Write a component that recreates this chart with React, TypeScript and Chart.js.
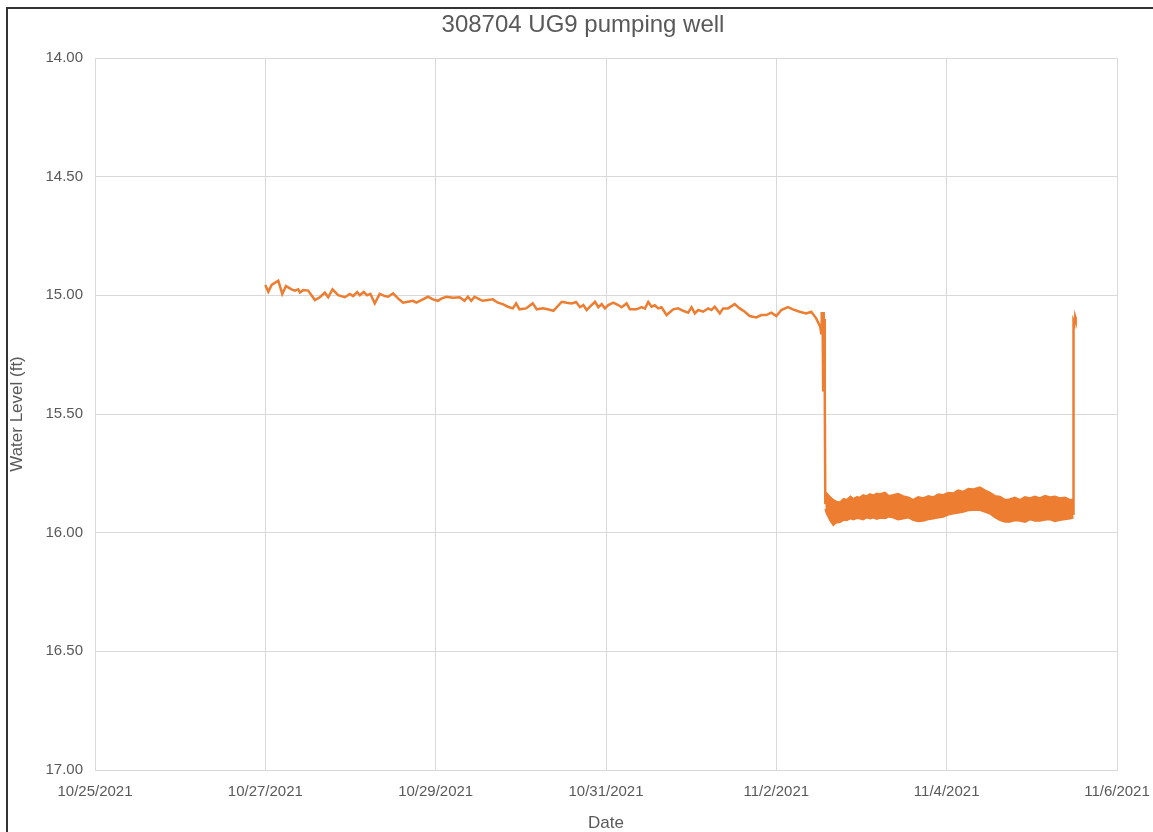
import React, { useEffect, useRef } from "react";
import { Chart, registerables } from "chart.js";

Chart.register(...registerables);

// ---- Data (x = days since 10/25/2021 00:00, y = water level in ft) ----
const chartTitle = "308704 UG9 pumping well";
const xTickLabels = ["10/25/2021", "10/27/2021", "10/29/2021", "10/31/2021", "11/2/2021", "11/4/2021", "11/6/2021"];
const yTickLabels = ["14.00", "14.50", "15.00", "15.50", "16.00", "16.50", "17.00"];

// Pre-pumping record (10/27 to start of pumping on 11/2)
const preTimes = [
  2.000, 2.035, 2.074, 2.152, 2.199, 2.242, 2.308, 2.347, 2.386, 2.406, 2.445, 2.503, 2.582, 2.640, 2.699, 2.738,
  2.789, 2.855, 2.933, 2.992, 3.031, 3.078, 3.109, 3.156, 3.195, 3.234, 3.285, 3.343, 3.402, 3.441, 3.500, 3.558,
  3.617, 3.675, 3.734, 3.773, 3.832, 3.910, 3.968, 4.027, 4.066, 4.125, 4.203, 4.281, 4.339, 4.378, 4.418, 4.457,
  4.515, 4.554, 4.613, 4.671, 4.730, 4.789, 4.847, 4.906, 4.945, 4.984, 5.062, 5.140, 5.187, 5.257, 5.316, 5.383,
  5.480, 5.539, 5.597, 5.648, 5.695, 5.734, 5.773, 5.812, 5.871, 5.910, 5.949, 5.988, 6.027, 6.086, 6.144, 6.183,
  6.242, 6.281, 6.359, 6.418, 6.457, 6.496, 6.535, 6.574, 6.613, 6.652, 6.711, 6.789, 6.847, 6.906, 6.965, 7.004,
  7.043, 7.082, 7.140, 7.199, 7.238, 7.277, 7.336, 7.375, 7.433, 7.511, 7.570, 7.629, 7.687, 7.765, 7.824, 7.883,
  7.941, 8.000, 8.058, 8.136, 8.195, 8.273, 8.351, 8.410, 8.468, 8.515, 8.527, 8.531, 8.535, 8.543, 8.550, 8.556,
  8.562, 8.566, 8.571, 8.575,
];
const preLevels = [
  14.956, 14.985, 14.956, 14.938, 14.994, 14.961, 14.975, 14.980, 14.975, 14.988, 14.978, 14.980, 15.020, 15.008, 14.989, 15.008,
  14.975, 14.999, 15.008, 14.994, 15.003, 14.986, 15.000, 14.986, 15.000, 14.994, 15.034, 14.994, 15.003, 15.006, 14.992, 15.013,
  15.031, 15.027, 15.023, 15.031, 15.020, 15.006, 15.017, 15.023, 15.014, 15.006, 15.010, 15.008, 15.023, 15.006, 15.023, 15.006,
  15.017, 15.023, 15.020, 15.017, 15.031, 15.037, 15.048, 15.055, 15.034, 15.059, 15.055, 15.034, 15.059, 15.055, 15.059, 15.065,
  15.027, 15.031, 15.034, 15.028, 15.050, 15.041, 15.062, 15.048, 15.027, 15.050, 15.037, 15.055, 15.041, 15.031, 15.041, 15.050,
  15.034, 15.059, 15.059, 15.050, 15.056, 15.028, 15.048, 15.042, 15.055, 15.050, 15.083, 15.059, 15.055, 15.065, 15.073, 15.050,
  15.076, 15.062, 15.069, 15.055, 15.062, 15.048, 15.076, 15.055, 15.055, 15.037, 15.055, 15.069, 15.087, 15.093, 15.083, 15.083,
  15.073, 15.087, 15.062, 15.050, 15.059, 15.069, 15.076, 15.069, 15.097, 15.132, 15.160, 15.070, 15.160, 15.070, 15.400, 15.070,
  15.300, 15.100, 15.400, 15.880,
];

// Pumping period: envelope of the rapidly cycling record
const bandTimes = [
  8.575, 8.591, 8.630, 8.669, 8.700, 8.747, 8.790, 8.826, 8.870, 8.903, 8.945, 8.982, 9.020, 9.061, 9.100, 9.138,
  9.180, 9.216, 9.276, 9.320, 9.373, 9.430, 9.491, 9.550, 9.608, 9.665, 9.725, 9.785, 9.843, 9.900, 9.960, 10.020,
  10.077, 10.135, 10.195, 10.255, 10.313, 10.391, 10.450, 10.508, 10.565, 10.626, 10.685, 10.743, 10.800, 10.861,
  10.920, 10.978, 11.035, 11.095, 11.155, 11.213, 11.270, 11.330, 11.390, 11.448, 11.490,
];
const bandHigh = [
  15.830, 15.834, 15.850, 15.862, 15.868, 15.873, 15.858, 15.862, 15.848, 15.858, 15.850, 15.852, 15.842, 15.846, 15.838, 15.843,
  15.835, 15.838, 15.831, 15.845, 15.841, 15.836, 15.846, 15.852, 15.862, 15.850, 15.855, 15.846, 15.851, 15.838, 15.841, 15.832,
  15.834, 15.822, 15.827, 15.815, 15.817, 15.809, 15.822, 15.831, 15.845, 15.848, 15.862, 15.859, 15.852, 15.862,
  15.850, 15.855, 15.848, 15.855, 15.845, 15.851, 15.848, 15.855, 15.852, 15.862, 15.860,
];
const bandLow = [
  15.900, 15.919, 15.947, 15.968, 15.958, 15.955, 15.946, 15.948, 15.940, 15.944, 15.938, 15.940, 15.944, 15.936, 15.940, 15.936,
  15.942, 15.937, 15.939, 15.932, 15.936, 15.944, 15.940, 15.936, 15.947, 15.952, 15.950, 15.944, 15.940, 15.936, 15.933, 15.924,
  15.919, 15.916, 15.912, 15.906, 15.905, 15.905, 15.912, 15.919, 15.935, 15.947, 15.954, 15.954, 15.948, 15.950,
  15.955, 15.944, 15.950, 15.950, 15.946, 15.944, 15.952, 15.947, 15.944, 15.940, 15.936,
];

// Recovery after pumping stopped
const recTimes = [11.484, 11.487, 11.492, 11.500, 11.508, 11.515];
const recLevels = [15.920, 15.140, 15.110, 15.120, 15.090, 15.100];

const SERIES_COLOR = "#ED7D31";
const TEXT_COLOR = "#595959";
const GRID_COLOR = "#D9D9D9";
const FONT = "'Liberation Sans', Arial, sans-serif";

const toPoints = (xs: number[], ys: number[]) => xs.map((x, i) => ({ x, y: ys[i] }));

const titlePlugin = {
  id: "centeredTitle",
  afterDraw(chart: any) {
    const { ctx } = chart;
    ctx.save();
    ctx.font = `24px ${FONT}`;
    ctx.fillStyle = TEXT_COLOR;
    ctx.textAlign = "center";
    ctx.textBaseline = "middle";
    ctx.fillText(chartTitle, 583, 25);
    ctx.restore();
  },
};

export default function App() {
  const ref = useRef<HTMLCanvasElement | null>(null);

  useEffect(() => {
    if (!ref.current) return;
    const chart = new Chart(ref.current, {
      type: "line",
      data: {
        datasets: [
          {
            label: "Water Level",
            data: toPoints(preTimes, preLevels),
            borderColor: SERIES_COLOR,
            borderWidth: 2.5,
            pointRadius: 0,
            tension: 0,
            fill: false,
          },
          {
            label: "Pumping high",
            data: toPoints(bandTimes, bandHigh),
            borderColor: SERIES_COLOR,
            backgroundColor: SERIES_COLOR,
            borderWidth: 2,
            pointRadius: 0,
            tension: 0,
            fill: "+1",
          },
          {
            label: "Pumping low",
            data: toPoints(bandTimes, bandLow),
            borderColor: SERIES_COLOR,
            borderWidth: 2,
            pointRadius: 0,
            tension: 0,
            fill: false,
          },
          {
            label: "Recovery",
            data: toPoints(recTimes, recLevels),
            borderColor: SERIES_COLOR,
            borderWidth: 2.5,
            pointRadius: 0,
            tension: 0,
            fill: false,
          },
        ],
      },
      options: {
        animation: false,
        responsive: false,
        maintainAspectRatio: false,
        layout: { padding: { left: 0, right: 53, top: 58, bottom: 0 } },
        plugins: {
          legend: { display: false },
          tooltip: { enabled: false },
          title: { display: false },
        },
        scales: {
          x: {
            type: "linear",
            min: 0,
            max: 12,
            afterFit: (scale: any) => {
              scale.height = 70;
            },
            ticks: {
              stepSize: 2,
              autoSkip: false,
              maxRotation: 0,
              padding: 13,
              color: TEXT_COLOR,
              font: { family: FONT, size: 15 },
              callback: (v: any) => xTickLabels[Math.round(Number(v) / 2)],
            },
            grid: { color: GRID_COLOR, drawTicks: false, lineWidth: 1 },
            border: { color: GRID_COLOR },
            title: {
              display: true,
              text: "Date",
              color: TEXT_COLOR,
              font: { family: FONT, size: 17 },
              padding: { top: 0, bottom: 6 },
            },
          },
          y: {
            type: "linear",
            min: 14,
            max: 17,
            reverse: true,
            afterFit: (scale: any) => {
              scale.width = 95;
            },
            ticks: {
              stepSize: 0.5,
              padding: 12,
              color: TEXT_COLOR,
              font: { family: FONT, size: 15 },
              callback: (v: any) => yTickLabels[Math.round((Number(v) - 14) / 0.5)],
            },
            grid: { color: GRID_COLOR, drawTicks: false, lineWidth: 1 },
            border: { color: GRID_COLOR },
            title: {
              display: true,
              text: "Water Level (ft)",
              color: TEXT_COLOR,
              font: { family: FONT, size: 17 },
              padding: { top: 7, bottom: 0 },
            },
          },
        },
      },
      plugins: [titlePlugin],
    });
    return () => chart.destroy();
  }, []);

  return (
    <div
      style={{
        position: "fixed",
        left: 0,
        top: 0,
        width: 1153,
        height: 832,
        overflow: "hidden",
        background: "#fff",
      }}
    >
      <canvas ref={ref} width={1170} height={840} style={{ display: "block" }} />
      <div
        style={{
          position: "absolute",
          left: 6,
          top: 7,
          width: 1200,
          height: 900,
          border: "2px solid #333",
          boxSizing: "border-box",
          pointerEvents: "none",
        }}
      />
    </div>
  );
}
